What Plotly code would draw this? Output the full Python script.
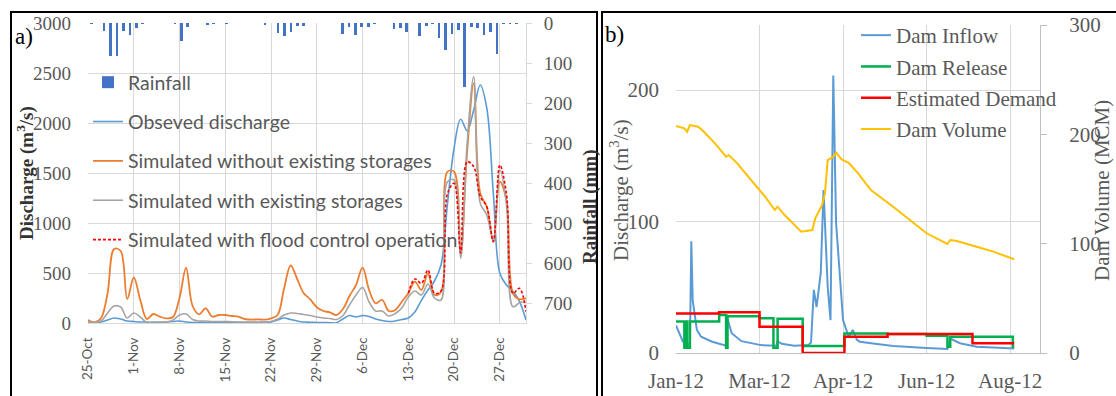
import pandas as pd
import plotly.graph_objects as go

W, H = 1116, 396

# ---------------- Panel a data (daily, 25-Oct .. 31-Dec) ----------------
a_dates = pd.date_range("2011-10-25", "2011-12-31", freq="D")

rainfall = [2, 0, 20, 82, 82, 20, 31, 12, 2, 0,
            0, 0, 0, 2, 46, 9, 0, 0, 6, 2,
            0, 1, 0, 0, 0, 0, 0, 6, 0, 26,
            32, 22, 7, 7, 0, 0, 0, 0, 0, 28,
            9, 31, 9, 9, 2, 0, 0, 14, 12, 22,
            0, 32, 7, 2, 37, 68, 27, 17, 160, 9,
            12, 30, 22, 77, 2, 2, 2, 0]

observed = [10, 5, 10, 30, 50, 40, 20, 15, 10, 10,
            5, 5, 10, 15, 20, 10, 5, 5, 5, 5,
            5, 5, 5, 5, 5, 5, 5, 10, 10, 30,
            50, 35, 20, 10, 8, 5, 5, 3, 3, 40,
            75, 60, 75, 65, 40, 25, 15, 20, 35, 50,
            110, 227, 330, 420, 580, 1200, 1750, 2037, 1923, 2130,
            2380, 2150, 1300, 497, 380, 317, 217, 30]

sim_no_storage = [30, 5, 50, 300, 740, 720, 240, 455, 230, 40,
                  90, 63, 47, 60, 250, 550, 170, 87, 147, 63,
                  80, 80, 70, 63, 40, 33, 37, 33, 47, 80,
                  347, 575, 440, 297, 237, 157, 120, 107, 80, 140,
                  270, 380, 553, 330, 197, 230, 120, 130, 213, 297,
                  413, 330, 497, 280, 310, 1513, 1513, 700, 1713, 2397,
                  1297, 1163, 813, 1413, 1230, 297, 237, 247]

sim_storage = [10, 5, 20, 100, 170, 160, 50, 100, 60, 5,
               10, 10, 10, 30, 80, 90, 35, 20, 20, 15,
               15, 15, 12, 10, 10, 10, 10, 10, 15, 40,
               80, 100, 95, 85, 75, 60, 50, 45, 35, 75,
               180, 280, 355, 210, 120, 120, 70, 95, 150, 260,
               320, 280, 390, 250, 230, 1413, 1430, 647, 1797, 2463,
               1197, 1080, 830, 1530, 1197, 163, 203, 213]

sim_flood_ctrl = [None] * 49 + [297, 440, 397, 530, 297, 320, 1297, 1397, 700, 1613,
                                1563, 1263, 1163, 813, 1580, 1297, 297, 347, 113]

# ---------------- Panel b data (2012) ----------------
inflow_dates = ["2012-01-01", "2012-01-06", "2012-01-11", "2012-01-12", "2012-01-13",
                "2012-01-16", "2012-01-19", "2012-01-27", "2012-02-06", "2012-02-07",
                "2012-02-10", "2012-02-17", "2012-03-02", "2012-03-13", "2012-03-14",
                "2012-03-17", "2012-03-26", "2012-04-05", "2012-04-07", "2012-04-09",
                "2012-04-11", "2012-04-14", "2012-04-16", "2012-04-19", "2012-04-21",
                "2012-04-23", "2012-04-25", "2012-04-28", "2012-04-30", "2012-05-04",
                "2012-05-07", "2012-05-10", "2012-05-12", "2012-05-23", "2012-06-05",
                "2012-06-29", "2012-07-14", "2012-07-16", "2012-07-23", "2012-08-04",
                "2012-08-31"]
inflow = [21, 8.6, 6, 85, 40,
          17.5, 12.4, 8.6, 5.5, 26,
          15, 9, 6, 5.5, 9,
          7, 5.6, 6, 8, 48,
          35, 61, 124, 50, 25,
          211, 99, 58, 25, 12.4,
          17.5, 10, 8.6, 7, 5.3,
          3.8, 3, 11, 7.4, 4.8,
          3.5]

release_dates = ["2012-01-01", "2012-01-07", "2012-01-08", "2012-01-09", "2012-01-11",
                 "2012-02-01", "2012-02-06", "2012-02-07", "2012-03-01", "2012-03-11",
                 "2012-03-14", "2012-04-01", "2012-05-01", "2012-06-01", "2012-06-29",
                 "2012-07-14", "2012-07-16", "2012-08-30", "2012-08-31"]
release = [24, 4, 24, 4, 24,
           29, 4, 28, 26.4, 4,
           26, 5.3, 14.8, 14.4, 13.2,
           4.8, 12.4, 4.8, 4.8]

demand_dates = ["2012-01-01", "2012-02-01", "2012-03-01", "2012-04-01", "2012-05-01",
                "2012-06-01", "2012-07-01", "2012-08-01", "2012-08-31"]
demand = [30, 31, 20, 0, 12.4, 14.4, 14.4, 7.4, 7.4]

volume_dates = ["2012-01-01", "2012-01-07", "2012-01-09", "2012-01-11", "2012-01-17",
                "2012-01-21", "2012-01-29", "2012-02-06", "2012-02-08", "2012-02-14",
                "2012-02-24", "2012-03-05", "2012-03-12", "2012-03-14", "2012-03-19",
                "2012-03-26", "2012-03-31", "2012-04-08", "2012-04-10", "2012-04-15",
                "2012-04-17", "2012-04-19", "2012-04-23", "2012-04-25", "2012-04-29",
                "2012-05-04", "2012-05-11", "2012-05-20", "2012-06-05", "2012-06-29",
                "2012-07-14", "2012-07-16", "2012-07-20", "2012-08-04", "2012-08-16",
                "2012-08-31"]
volume = [207.6, 205.5, 202.4, 208.5, 207,
          202.4, 191.8, 179.6, 181, 173.5,
          158.2, 143, 130.8, 133.8, 126.2,
          117, 111, 112.5, 123.2, 135.4,
          146, 176.5, 179.6, 183.2, 177,
          174, 164, 149, 133.8, 109.5,
          99.7, 103.4, 102.7, 97.2, 92.7,
          85.7]

b_ticks = pd.date_range("2012-01-01", periods=5, freq="60D")

# ---------------- styles ----------------
SERIF = "Liberation Serif"
SANS = "Lato"
GRID = "#d9d9d9"
TXT = "#595959"

def px_x(p):
    return p / W

def px_y(p):
    return 1 - p / H

fig = go.Figure()

fig.add_trace(go.Bar(
    x=a_dates, y=rainfall, name="Rainfall", xaxis="x3", yaxis="y2",
    marker=dict(color="#4472C4", line=dict(width=0)),
    width=0.42 * 86400000, legend="legend", legendgroup="a1"))
fig.add_trace(go.Scatter(
    x=a_dates, y=observed, name="Obseved discharge", mode="lines",
    line=dict(color="#5B9BD5", width=1.6, shape="spline"),
    xaxis="x", yaxis="y", legend="legend", legendgroup="a2"))
fig.add_trace(go.Scatter(
    x=a_dates, y=sim_no_storage, name="Simulated without existing storages", mode="lines",
    line=dict(color="#ED7D31", width=1.8, shape="spline"),
    xaxis="x", yaxis="y", legend="legend", legendgroup="a3"))
fig.add_trace(go.Scatter(
    x=a_dates, y=sim_storage, name="Simulated with existing storages", mode="lines",
    line=dict(color="#A5A5A5", width=1.6, shape="spline"),
    xaxis="x", yaxis="y", legend="legend", legendgroup="a4"))
fig.add_trace(go.Scatter(
    x=a_dates, y=sim_flood_ctrl, name="Simulated with flood control operation", mode="lines",
    line=dict(color="#FF0000", width=1.6, shape="spline", dash="3px,2px"),
    xaxis="x", yaxis="y", legend="legend", legendgroup="a5"))

fig.add_trace(go.Scatter(
    x=inflow_dates, y=inflow, name="Dam Inflow", mode="lines",
    line=dict(color="#5B9BD5", width=2),
    xaxis="x2", yaxis="y3", legend="legend2", legendgroup="b1"))
fig.add_trace(go.Scatter(
    x=release_dates, y=release, name="Dam Release", mode="lines",
    line=dict(color="#00B050", width=2.5, shape="hv"),
    xaxis="x2", yaxis="y3", legend="legend2", legendgroup="b2"))
fig.add_trace(go.Scatter(
    x=demand_dates, y=demand, name="Estimated Demand", mode="lines",
    line=dict(color="#FF0000", width=2.5, shape="hv"),
    xaxis="x2", yaxis="y3", legend="legend2", legendgroup="b3"))
fig.add_trace(go.Scatter(
    x=volume_dates, y=volume, name="Dam Volume", mode="lines",
    line=dict(color="#FFC000", width=2),
    xaxis="x2", yaxis="y4", legend="legend2", legendgroup="b4"))

xa = [px_x(88), px_x(526)]
ya = [px_y(323), px_y(23)]
xb = [px_x(676), px_x(1040)]
yb = [px_y(353), px_y(25)]

fig.update_layout(
    width=W, height=H,
    margin=dict(l=0, r=0, t=0, b=0, pad=0, autoexpand=False),
    paper_bgcolor="white", plot_bgcolor="white",
    bargap=0,
    xaxis=dict(domain=xa, anchor="y", type="date", automargin=False,
               range=["2011-10-25", "2011-12-31"],
               tick0="2011-10-25", dtick=7 * 86400000, tickformat="%-d-%b",
               tickangle=-90, showgrid=True, gridcolor=GRID, gridwidth=1,
               showline=True, linecolor=GRID, ticks="", zeroline=False,
               tickfont=dict(family=SANS, size=13.5, color=TXT),
               ticklabelstandoff=8),
    xaxis3=dict(overlaying="x", type="date", visible=False, automargin=False,
                range=["2011-10-24 12:00", "2011-12-31 12:00"]),
    yaxis=dict(domain=ya, anchor="x", range=[0, 3000], dtick=500, automargin=False,
               showgrid=True, gridcolor=GRID, zeroline=False, showline=False,
               ticks="", tickfont=dict(family=SERIF, size=19, color=TXT),
               ticklabelstandoff=16),
    yaxis2=dict(overlaying="y", side="right", anchor="x", range=[750, 0], dtick=100,
                automargin=False,
                showgrid=False, zeroline=False, showline=True, linecolor=GRID,
                ticks="outside", ticklen=5, tickcolor=GRID,
                tickfont=dict(family=SERIF, size=19, color=TXT),
                ticklabelstandoff=8),
    xaxis2=dict(domain=xb, anchor="y3", type="date", automargin=False,
                range=["2012-01-01", "2012-09-18 12:00"],
                tickvals=list(b_ticks), tickformat="%b-%y",
                showgrid=True, gridcolor=GRID, showline=True, linecolor="#bfbfbf",
                ticks="", zeroline=False,
                tickfont=dict(family=SERIF, size=21, color=TXT),
                ticklabelstandoff=9),
    yaxis3=dict(domain=yb, anchor="x2", range=[0, 249.5], dtick=100, automargin=False,
                showgrid=True, gridcolor=GRID, zeroline=False, showline=False,
                ticks="", tickfont=dict(family=SERIF, size=21, color=TXT),
                ticklabelstandoff=16),
    yaxis4=dict(overlaying="y3", side="right", anchor="x2", range=[0, 300], dtick=100,
                automargin=False,
                showgrid=False, zeroline=False, showline=True, linecolor="#bfbfbf",
                ticks="outside", ticklen=6, tickcolor="#bfbfbf",
                tickfont=dict(family=SERIF, size=21, color=TXT),
                ticklabelstandoff=18),
    legend=dict(x=px_x(88), y=px_y(63), xanchor="left", yanchor="top",
                bgcolor="rgba(0,0,0,0)", traceorder="grouped", tracegroupgap=11,
                font=dict(family=SANS, size=19.5, color=TXT)),
    legend2=dict(x=px_x(856), y=px_y(15), xanchor="left", yanchor="top",
                 bgcolor="rgba(0,0,0,0)", traceorder="grouped", tracegroupgap=1,
                 font=dict(family=SERIF, size=21, color=TXT)),
    showlegend=True,
)

annotations = [
    dict(text="a)", x=px_x(13), y=px_y(36), xanchor="left", yanchor="middle",
         font=dict(family=SERIF, size=23, color="black")),
    dict(text="b)", x=px_x(603), y=px_y(34), xanchor="left", yanchor="middle",
         font=dict(family=SERIF, size=23, color="black")),
    dict(text="<b>Discharge (m<sup>3</sup>/s)</b>", x=px_x(25), y=px_y(173),
         xanchor="center", yanchor="middle",
         textangle=-90, font=dict(family=SERIF, size=19, color="#333333")),
    dict(text="<b>Rainfall (mm)</b>", x=px_x(590), y=px_y(207),
         xanchor="center", yanchor="middle",
         textangle=-90, font=dict(family=SERIF, size=19, color="#333333")),
    dict(text="Discharge (m<sup>3</sup>/s)", x=px_x(619), y=px_y(190),
         xanchor="center", yanchor="middle",
         textangle=-90, font=dict(family=SERIF, size=21, color=TXT)),
    dict(text="Dam Volume (MCM)", x=px_x(1102), y=px_y(191),
         xanchor="center", yanchor="middle",
         textangle=-90, font=dict(family=SERIF, size=21, color=TXT)),
]
for a in annotations:
    a.update(xref="paper", yref="paper", showarrow=False)
fig.update_layout(annotations=annotations)

fig.update_layout(shapes=[
    dict(type="rect", xref="paper", yref="paper",
         x0=px_x(11), x1=px_x(597), y0=-0.2, y1=px_y(12),
         line=dict(color="black", width=2), fillcolor="rgba(0,0,0,0)", layer="above"),
    dict(type="rect", xref="paper", yref="paper",
         x0=px_x(602), x1=1.2, y0=-0.2, y1=px_y(12),
         line=dict(color="black", width=2), fillcolor="rgba(0,0,0,0)", layer="above"),
])

fig.write_html("out.html", config={"displayModeBar": False},
               post_script="document.body.style.margin='0px';document.body.style.overflow='hidden';")
